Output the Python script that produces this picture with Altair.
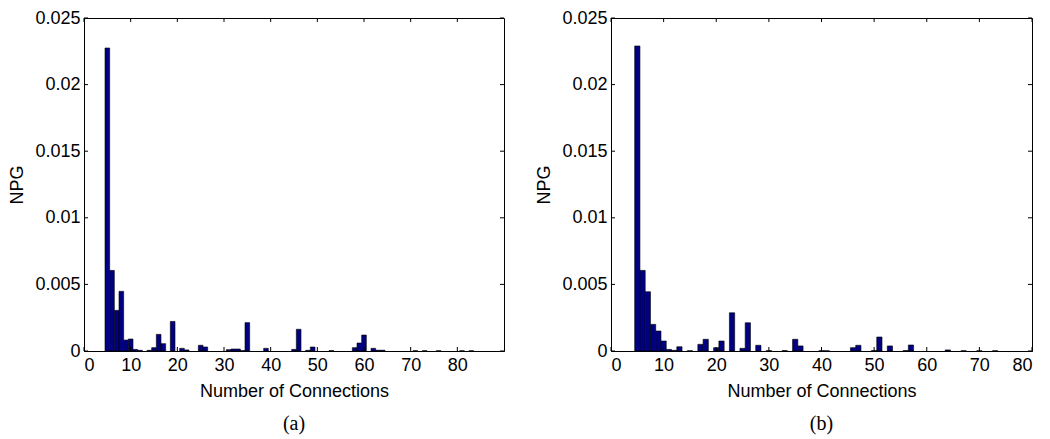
import altair as alt
import pandas as pd

# ---- data ----
left_bins = [5, 6, 7, 8, 9, 10, 11, 12, 14, 15, 16, 17, 19, 21, 22, 25, 26,
             31, 32, 33, 34, 35, 39, 45, 46, 48, 49, 53, 58, 59, 60, 62, 63, 64,
             71, 73, 76, 81, 83]
left_vals = [0.02275, 0.00605, 0.00305, 0.00448, 0.00082, 0.0009, 0.00012, 0.00005,
             0.00005, 0.00025, 0.00125, 0.00055, 0.00222, 0.0002, 0.00008, 0.00043,
             0.0003, 0.0001, 0.00015, 0.00015, 0.00003, 0.00213, 0.0002, 0.00012,
             0.00163, 0.00005, 0.0003, 0.00003, 0.00025, 0.0006, 0.0012, 0.0002,
             0.00006, 0.00006, 0.00002, 0.00002, 0.00002, 0.00002, 0.00002]

right_bins = [5, 6, 7, 8, 9, 10, 11, 12, 13, 15, 17, 18, 20, 21, 23, 25, 26, 28,
              30, 33, 35, 36, 40, 41, 46, 47, 50, 51, 53, 56, 57, 64, 67, 70, 73]
right_vals = [0.0229, 0.00605, 0.00445, 0.002, 0.0015, 0.00075, 0.00012, 0.00005,
              0.00032, 0.00002, 0.0005, 0.00088, 0.00025, 0.00075, 0.00287, 0.0002,
              0.00212, 0.00043, 0.00003, 0.00003, 0.00088, 0.00038, 0.00002, 0.00002,
              0.00025, 0.00043, 0.00003, 0.00105, 0.00038, 0.00003, 0.00045, 0.00008,
              0.00002, 0.00002, 0.00002]

x_ticks = [0, 10, 20, 30, 40, 50, 60, 70, 80]
y_ticks = [0, 0.005, 0.01, 0.015, 0.02, 0.025]

H = 333
FONT = "Liberation Sans"
BAR_FILL = "#000080"


def panel(bins, vals, xmax, width, label):
    df = pd.DataFrame({"n": bins, "v": vals})
    xs = alt.Scale(domain=[0, xmax], nice=False, zero=False)
    ys = alt.Scale(domain=[0, 0.025], nice=False)

    bars = alt.Chart(df).transform_calculate(
        x0="datum.n - 0.5", x1="datum.n + 0.5", z="0"
    ).mark_rect(fill=BAR_FILL, stroke="#000000", strokeWidth=0.6).encode(
        x=alt.X("x0:Q", scale=xs,
                axis=alt.Axis(values=x_ticks, title="Number of Connections",
                              ticks=False, labelPadding=5, titlePadding=8,
                              grid=False, domainColor="#000000")),
        x2="x1:Q",
        y=alt.Y("v:Q", scale=ys,
                axis=alt.Axis(values=y_ticks, title="NPG", ticks=False,
                              labelPadding=4, titlePadding=8, grid=False,
                              domainColor="#000000",
                              labelExpr="datum.value == 0 ? '0' : format(datum.value, '.3~f')")),
        y2="z:Q",
    )

    xt = pd.DataFrame({"t": x_ticks})
    yt = pd.DataFrame({"t": y_ticks})
    xb = alt.Chart(xt).mark_rule(color="#000000", strokeWidth=1).encode(
        x=alt.X("t:Q", scale=xs), y=alt.value(H), y2=alt.value(H - 4))
    xtop = alt.Chart(xt).mark_rule(color="#000000", strokeWidth=1).encode(
        x=alt.X("t:Q", scale=xs), y=alt.value(0), y2=alt.value(4))
    yl = alt.Chart(yt).mark_rule(color="#000000", strokeWidth=1).encode(
        y=alt.Y("t:Q", scale=ys), x=alt.value(0), x2=alt.value(4))
    yr = alt.Chart(yt).mark_rule(color="#000000", strokeWidth=1).encode(
        y=alt.Y("t:Q", scale=ys), x=alt.value(width), x2=alt.value(width - 4))

    return alt.layer(bars, xb, xtop, yl, yr).properties(
        width=width, height=H,
        title=alt.TitleParams(label, orient="bottom", font="Liberation Serif",
                              fontSize=20, fontWeight="normal", offset=14,
                              frame="group", color="#000000"),
    )


left = panel(left_bins, left_vals, 90, 420, "(a)")
right = panel(right_bins, right_vals, 80, 421, "(b)")

chart = alt.hconcat(left, right, spacing=30).properties(
    padding={"left": 0, "top": 0, "right": 0, "bottom": 0},
    background="#ffffff",
).configure_view(stroke="#000000", strokeWidth=1).configure_axis(
    labelFont=FONT, titleFont=FONT, labelFontSize=18, titleFontSize=18,
    labelColor="#000000", titleColor="#000000", titleFontWeight="normal"
)

chart.save("out.html", embed_options={"renderer": "svg", "actions": False})
